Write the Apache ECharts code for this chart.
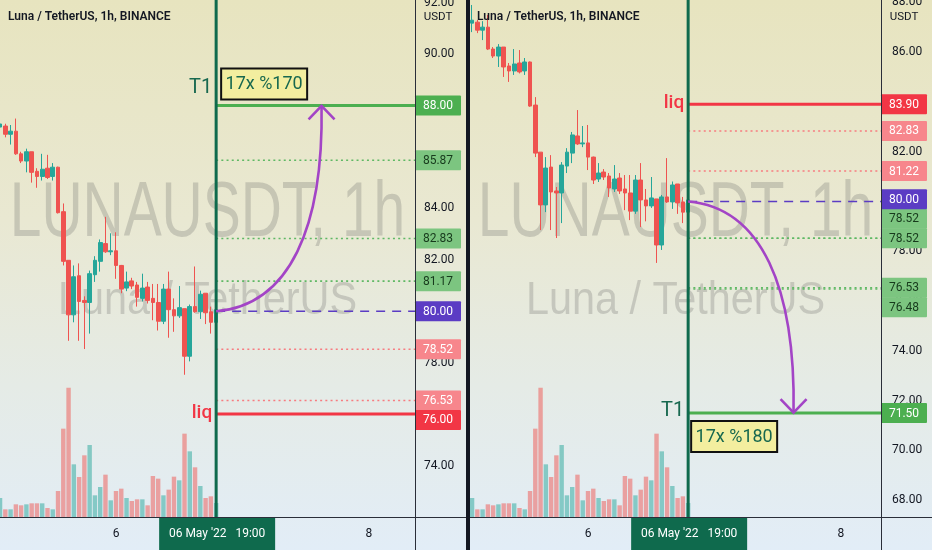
<!DOCTYPE html>
<html><head><meta charset="utf-8">
<script src="https://cdn.jsdelivr.net/npm/echarts@6/dist/echarts.min.js"></script>
<style>
html,body{margin:0;padding:0;width:932px;height:550px;overflow:hidden;
background:linear-gradient(180deg,#e7e4bf 0%,#e9e8d2 40%,#e5ebe6 70%,#e2edf7 100%);}
#c{width:932px;height:550px;}
</style></head><body><div id="c"></div>
<script>
// ---- data (hours relative to 06 May '22 00:00, 1h candles) ----
const hours = [-22,-21,-20,-19,-18,-17,-16,-15,-14,-13,-12,-11,-10,-9,-8,-7,-6,-5,-4,-3,-2,-1,0,1,2,3,4,5,6,7,8,9,10,11,12,13,14,15,16,17,18,19];
const openP  = [87.16,87.20,86.88,87.00,86.12,85.84,86.20,85.44,85.24,85.56,85.24,85.60,83.87,81.98,79.86,81.38,80.42,80.34,81.42,81.94,82.63,82.31,82.35,81.78,80.90,81.18,81.02,80.50,80.94,80.50,80.34,79.61,80.86,80.06,79.82,80.10,78.25,80.18,79.98,80.70,79.98,79.57];
const closeP = [87.28,86.88,87.00,86.12,85.84,86.20,85.40,85.24,85.52,85.20,85.60,83.83,81.94,79.86,81.34,80.38,80.34,81.46,81.98,82.67,82.31,82.35,81.78,80.86,81.14,80.98,80.54,80.90,80.42,80.34,79.61,80.86,80.06,79.82,80.14,78.25,80.18,79.98,80.66,79.94,79.57,80.06];
const lowP   = [86.80,86.76,86.48,86.08,85.76,85.40,85.00,84.80,85.08,85.14,85.08,83.80,81.78,78.85,79.57,78.85,78.53,79.13,81.14,81.54,82.27,82.18,81.26,80.70,80.78,80.86,80.18,80.38,80.30,79.65,79.25,79.50,78.97,79.20,79.74,77.53,78.05,79.94,79.70,79.50,79.13,79.40];
const highP  = [87.89,87.29,87.24,87.49,86.20,86.32,86.20,85.56,86.12,86.08,85.76,85.62,84.19,81.98,81.78,81.86,80.58,81.58,82.14,82.79,83.67,83.03,83.07,81.80,81.54,81.30,81.14,81.46,81.14,81.06,81.06,81.06,81.54,80.50,80.98,80.10,80.26,81.74,80.80,80.70,80.18,80.10];
const volume = [57,23,23,38,35,38,41,41,41,27,23,78,265,388,158,120,185,216,65,90,127,50,78,85,57,48,53,53,35,123,115,65,82,121,110,250,197,149,93,57,62,42];

const markHour = 19;
const crossLabel = "06 May '22   19:00";
const xTickHours = [0, 48];
const xTickLabels = ['6', '8'];
const titleText = 'Luna / TetherUS, 1h, BINANCE';
const watermark1 = 'LUNAUSDT, 1h';
const watermark2 = 'Luna / TetherUS';
const currency = 'USDT';

// left pane: long idea
const leftTarget = 88.00;
const leftTakeProfits = [85.87, 82.83, 81.17];
const leftEntry = 80.00;
const leftStops = [78.52, 76.53];
const leftLiq = 76.00;
const leftNote = '17x %170';
const leftArrowEndHour = 39;

// right pane: short idea
const rightTarget = 71.50;
const rightTakeProfits = [78.52, 78.52, 76.53, 76.48];
const rightEntry = 80.00;
const rightStops = [82.83, 81.22];
const rightLiq = 83.90;
const rightNote = '17x %180';
const rightArrowEndHour = 39;

// ---- layout ----
const FONT = 'Roboto, "Liberation Sans", sans-serif';
const UP = '#26a69a', DOWN = '#ef5350';
const panes = [
  {grid:{left:0,right:517,top:0,bottom:33}, vgrid:{left:0,right:517,top:387,bottom:33},
   xMin:-22.01, xMax:56.73, yMin:72, yMax:92.1, margin:9,
   target:leftTarget, tps:leftTakeProfits, entry:leftEntry, stops:leftStops, liq:leftLiq,
   note:leftNote, arrowEnd:leftArrowEndHour, t1Dy:-17, noteAbove:true},
  {grid:{left:470,right:51,top:0,bottom:0}, vgrid:{left:470,right:51,top:387,bottom:33},
   xMin:-22.39, xMax:55.59, yMin:66, yMax:88.09, margin:11,
   target:rightTarget, tps:rightTakeProfits, entry:rightEntry, stops:rightStops, liq:rightLiq,
   note:rightNote, arrowEnd:rightArrowEndHour, t1Dy:-2, noteAbove:false}
];
const STY = {
  target:{line:{color:'#4caf50',width:3,type:'solid'}, bg:'#4caf50', fg:'#ffffff'},
  tp:{line:{color:'#5fb864',width:1.6,type:[2,3.2]}, bg:'#7cc580', fg:'#173a1c'},
  stop:{line:{color:'#f77c80',width:1.6,type:[2,3.2]}, bg:'#f7868c', fg:'#ffffff'},
  entry:{line:{color:'#5b3cc4',width:1.6,type:[9,7]}, bg:'#5b3cc4', fg:'#ffffff'},
  liq:{line:{color:'#f23645',width:3,type:'solid'}, bg:'#f23645', fg:'#ffffff'}
};

const candleData = hours.map((h,i)=>[h, openP[i], closeP[i], lowP[i], highP[i]]);
const volData = hours.map((h,i)=>({value:[h, volume[i]],
  itemStyle:{color: closeP[i] >= openP[i] ? 'rgba(38,166,154,0.5)' : 'rgba(239,83,80,0.5)'}}));

function levelsOf(p){
  const out = [{v:p.target,k:'target'}];
  p.tps.forEach(v=>out.push({v,k:'tp'}));
  p.stops.forEach(v=>out.push({v,k:'stop'}));
  out.push({v:p.entry,k:'entry'});
  out.push({v:p.liq,k:'liq'});
  return out;
}

const grids=[], xAxes=[], yAxes=[], series=[];
panes.forEach((p,pi)=>{
  const gi = 2*pi, vi = 2*pi+1;
  grids.push(Object.assign({containLabel:false, outerBoundsMode:'none', show:false}, p.grid));
  grids.push(Object.assign({containLabel:false, outerBoundsMode:'none', show:false}, p.vgrid));
  xAxes.push({gridIndex:gi, type:'value', min:p.xMin, max:p.xMax, show:false});
  xAxes.push({gridIndex:vi, type:'value', min:p.xMin, max:p.xMax, show:false});
  const yMin = p.yMin;
  yAxes.push({gridIndex:gi, type:'value', position:'right', min:p.yMin, max:p.yMax, interval:2,
    axisLine:{show:false}, axisTick:{show:false}, splitLine:{show:false},
    axisLabel:{margin:p.margin, color:'#131722', fontSize:12, fontFamily:FONT,
      formatter:v => (Math.abs(v/2-Math.round(v/2))<1e-6 && v > yMin+0.5) ? v.toFixed(2) : ''}});
  yAxes.push({gridIndex:vi, type:'value', min:0, max:390, show:false});

  series.push({type:'bar', xAxisIndex:vi, yAxisIndex:vi, data:volData, barWidth:4.4, silent:true, z:2});
  series.push({type:'candlestick', xAxisIndex:gi, yAxisIndex:gi, data:candleData, barWidth:4.2,
    encode:{x:0, y:[1,2,3,4]}, silent:true, z:3,
    itemStyle:{color:UP, color0:DOWN, borderColor:UP, borderColor0:DOWN, borderWidth:1}});
  levelsOf(p).forEach(l=>{
    series.push({type:'line', xAxisIndex:gi, yAxisIndex:gi, symbol:'none', silent:true, z:4,
      data:[[markHour,l.v],[p.xMax,l.v]], lineStyle:Object.assign({}, STY[l.k].line)});
  });
  series.push({type:'line', xAxisIndex:gi, yAxisIndex:gi, symbol:'none', silent:true, z:5,
    data:[[markHour,p.yMin],[markHour,p.yMax]], lineStyle:{color:'#0f6a4d', width:3}});
});

const chart = echarts.init(document.getElementById('c'));
chart.setOption({backgroundColor:'transparent', animation:false, grid:grids, xAxis:xAxes, yAxis:yAxes, series});

// ---- annotations positioned through the axes ----
const px = (pi,x,y)=>chart.convertToPixel({xAxisIndex:2*pi, yAxisIndex:2*pi}, [x,y]);
const G = [];
const WM = 'rgba(95,95,95,0.25)';
panes.forEach((p,pi)=>{
  const left = px(pi, p.xMin, p.yMax)[0], right = px(pi, p.xMax, p.yMax)[0];
  const cx = (left+right)/2;
  // watermark
  G.push({type:'text', x:cx, y:214, scaleX:0.73, z:0, silent:true,
    style:{text:watermark1, font:'78px "Liberation Sans", Arial, sans-serif', fill:WM, textAlign:'center', textVerticalAlign:'middle', verticalAlign:'middle'}});
  G.push({type:'text', x:cx, y:301, scaleX:0.9, z:0, silent:true,
    style:{text:watermark2, font:'46px "Liberation Sans", Arial, sans-serif', fill:WM, textAlign:'center', textVerticalAlign:'middle', verticalAlign:'middle'}});
  // title
  G.push({type:'text', x:left+(pi?7:8), y:17, z:60, silent:true,
    style:{text:titleText, font:'600 12px '+FONT, fill:'#131722', textAlign:'left', textVerticalAlign:'middle', verticalAlign:'middle'}});
  // currency label on price scale
  G.push({type:'text', x:right+23, y:17, z:60, silent:true,
    style:{text:currency, font:'11.5px '+FONT, fill:'#131722', textAlign:'center', textVerticalAlign:'middle', verticalAlign:'middle'}});

  // price labels with overlap resolution
  const H = 19.5;
  const items = levelsOf(p).map(l=>({v:l.v, k:l.k, y0:px(pi, markHour, l.v)[1]}));
  const placed = [];
  items.forEach(it=>{
    let y = it.y0, g = 0;
    while(g++ < 20){
      const hit = placed.find(q=>Math.abs(q.y-y) < H-0.01);
      if(!hit) break;
      y = hit.y + (it.y0 > hit.y ? 1 : -1)*H;
    }
    it.y = y; placed.push(it);
  });
  placed.forEach(it=>{
    G.push({type:'rect', z:50, silent:true, shape:{x:right, y:it.y-10, width:46, height:20, r:1},
      style:{fill:STY[it.k].bg}});
    G.push({type:'text', z:51, silent:true, x:right+23, y:it.y+0.5,
      style:{text:it.v.toFixed(2), font:'12px '+FONT, fill:STY[it.k].fg, textAlign:'center', textVerticalAlign:'middle', verticalAlign:'middle'}});
  });

  // T1 / liq text
  const tP = px(pi, markHour, p.target), lP = px(pi, markHour, p.liq);
  G.push({type:'text', z:40, silent:true, x:tP[0]-4, y:tP[1]+p.t1Dy,
    style:{text:'T1', font:'20px '+FONT, fill:'#17684f', textAlign:'right', textVerticalAlign:'middle', verticalAlign:'middle'}});
  G.push({type:'text', z:40, silent:true, x:lP[0]-4, y:lP[1]-1,
    style:{text:'liq', font:'500 19px '+FONT, fill:'#f23645', textAlign:'right', textVerticalAlign:'middle', verticalAlign:'middle'}});
  // note box
  const nx = tP[0]+(p.noteAbove?5:3), ny = p.noteAbove ? tP[1]-37 : tP[1]+8;
  G.push({type:'rect', z:40, silent:true, shape:{x:nx, y:ny, width:86, height:31},
    style:{fill:'#f3ee9f', stroke:'#111111', lineWidth:2}});
  G.push({type:'text', z:41, silent:true, x:nx+43, y:ny+16,
    style:{text:p.note, font:'18px '+FONT, fill:'#17684f', textAlign:'center', textVerticalAlign:'middle', verticalAlign:'middle'}});

  // arrow
  const a0 = px(pi, markHour, p.entry), a1 = px(pi, p.arrowEnd, p.target);
  const dx = a1[0]-a0[0], dy = a1[1]-a0[1];
  const AC = '#a344c6';
  G.push({type:'bezierCurve', z:45, silent:true,
    shape:{x1:a0[0], y1:a0[1], cpx1:a0[0]+0.7*dx, cpy1:a0[1]+0.03*dy, cpx2:a1[0]+0.02*dx, cpy2:a0[1]+0.41*dy, x2:a1[0], y2:a1[1]},
    style:{stroke:AC, lineWidth:2.6, fill:null}});
  const s = dy<0 ? 1 : -1;
  G.push({type:'polyline', z:45, silent:true,
    shape:{points:[[a1[0]-13, a1[1]+s*14],[a1[0], a1[1]+0.5*s],[a1[0]+13, a1[1]+s*14]]},
    style:{stroke:AC, lineWidth:2.6, fill:null}});

  // time axis labels
  xTickHours.forEach((h,i)=>{
    G.push({type:'text', z:60, silent:true, x:px(pi,h,p.yMin)[0], y:534,
      style:{text:xTickLabels[i], font:'12px '+FONT, fill:'#131722', textAlign:'center', textVerticalAlign:'middle', verticalAlign:'middle'}});
  });
  const mx = px(pi, markHour, p.yMin)[0];
  G.push({type:'rect', z:60, silent:true, shape:{x:mx-57, y:518, width:116, height:32}, style:{fill:'#0f6a4d'}});
  G.push({type:'text', z:61, silent:true, x:mx+1, y:534,
    style:{text:crossLabel, font:'12px '+FONT, fill:'#ffffff', textAlign:'center', textVerticalAlign:'middle', verticalAlign:'middle'}});
  // price-scale border
  G.push({type:'line', z:55, silent:true, shape:{x1:right+0.5, y1:0, x2:right+0.5, y2:550}, style:{stroke:'#2a2e39', lineWidth:1}});
});
// horizontal time-axis border and pane separator
G.push({type:'line', z:55, silent:true, shape:{x1:0, y1:517.5, x2:932, y2:517.5}, style:{stroke:'#2a2e39', lineWidth:1}});
G.push({type:'rect', z:70, silent:true, shape:{x:466, y:0, width:4, height:550}, style:{fill:'#131722'}});
chart.setOption({graphic:G});
</script></body></html>
